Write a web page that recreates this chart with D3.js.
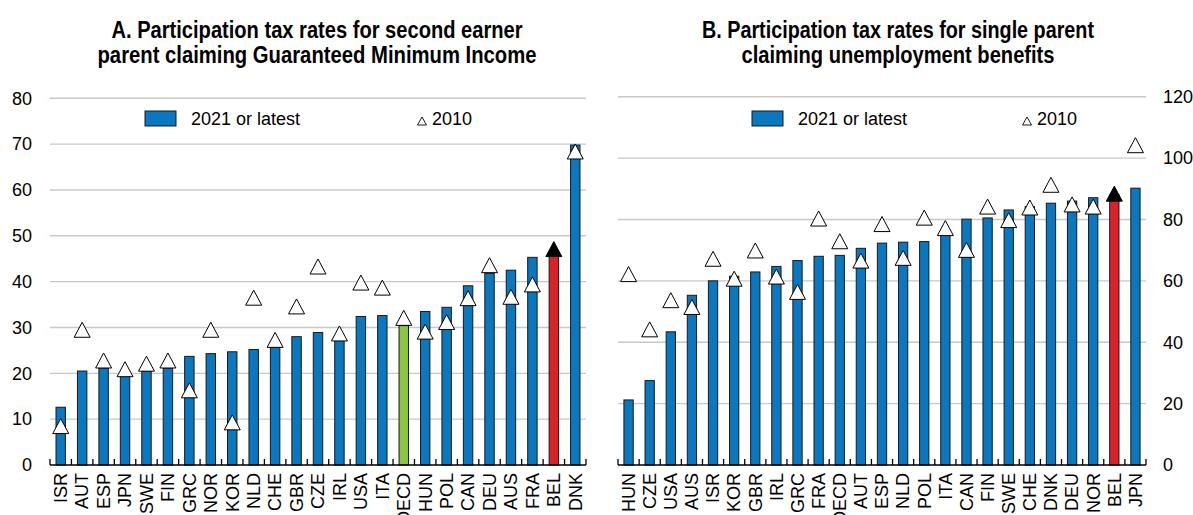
<!DOCTYPE html>
<html>
<head>
<meta charset="utf-8">
<script src="https://cdn.jsdelivr.net/npm/d3@7"></script>
<style>
  body { margin: 0; background: #fff; }
  svg text { font-family: "Liberation Sans", Arial, sans-serif; fill: #000; }
</style>
</head>
<body>
<div id="chart"></div>
<script>
// panel A: second earner parent, Guaranteed Minimum Income
const countriesA = ["ISR","AUT","ESP","JPN","SWE","FIN","GRC","NOR","KOR","NLD","CHE","GBR","CZE","IRL","USA","ITA","OECD","HUN","POL","CAN","DEU","AUS","FRA","BEL","DNK"];
const latestA = [12.6, 20.5, 21.1, 19.3, 20.4, 21.1, 23.7, 24.3, 24.7, 25.2, 25.7, 28.0, 28.9, 27.3, 32.4, 32.6, 30.4, 33.5, 34.4, 39.1, 41.8, 42.5, 45.3, 45.5, 69.8];
const y2010A = [8.5, 29.5, 22.8, 20.9, 22.1, 22.8, 16.3, 29.5, 9.3, 36.5, 27.3, 34.6, 43.3, 28.7, 39.8, 38.7, 32.1, 29.1, 31.2, 36.4, 43.6, 36.7, 39.4, 47.1, 68.4];
const ticksA = [0, 10, 20, 30, 40, 50, 60, 70, 80];

// panel B: single parent, unemployment benefits
const countriesB = ["HUN","CZE","USA","AUS","ISR","KOR","GBR","IRL","GRC","FRA","OECD","AUT","ESP","NLD","POL","ITA","CAN","FIN","SWE","CHE","DNK","DEU","NOR","BEL","JPN"];
const latestB = [21.2, 27.5, 43.4, 55.3, 60.0, 61.5, 62.9, 64.7, 66.6, 68.0, 68.3, 70.6, 72.3, 72.6, 72.8, 76.5, 80.1, 80.5, 83.1, 84.2, 85.3, 86.0, 87.1, 88.0, 90.2];
const y2010B = [62.2, 44.2, 53.7, 51.5, 67.2, 60.7, 69.9, 61.4, 56.4, 80.3, 72.9, 66.6, 78.5, 67.5, 80.6, 77.2, 70.1, 84.2, 79.8, 83.9, 91.3, 84.9, 84.2, 88.4, 104.2];
const ticksB = [0, 20, 40, 60, 80, 100, 120];

const width = 1193, height = 515;
const blue = "#0a77bf", red = "#dc2229", green = "#8cc63f";

const svg = d3.select("#chart").append("svg")
  .attr("width", width).attr("height", height);

// triangle path, centred on its bounding box
function tri(w, h) {
  return `M0,${-h/2}L${w/2},${h/2}L${-w/2},${h/2}Z`;
}

function drawPanel(p) {
  const g = svg.append("g");
  const x = d3.scaleBand().domain(p.cats).range([p.x0, p.x1]).paddingInner(0.56).paddingOuter(0.28);
  const y = d3.scaleLinear().domain([0, p.max]).range([465, p.yTop]);

  // titles (narrow bold face in the original, so squeeze to width)
  g.selectAll(".title").data(p.title).join("text")
    .attr("x", p.tx).attr("y", (d, i) => 38 + i * 25)
    .attr("text-anchor", "middle")
    .attr("textLength", (d, i) => p.titleW[i])
    .attr("lengthAdjust", "spacingAndGlyphs")
    .style("font-size", "23px").style("font-weight", "bold")
    .text(d => d);

  // gridlines
  g.selectAll(".grid").data(p.ticks.filter(t => t > 0)).join("line")
    .attr("x1", p.x0).attr("x2", p.x1)
    .attr("y1", d => y(d)).attr("y2", d => y(d))
    .attr("stroke", "#c8c8c8").attr("stroke-width", 1.4);

  // y tick labels
  g.selectAll(".ylab").data(p.ticks).join("text")
    .attr("x", p.labX).attr("y", d => y(d))
    .attr("dy", "0.35em")
    .attr("text-anchor", p.labAnchor)
    .style("font-size", "18px")
    .text(d => d);

  // legend
  const lg = g.append("g");
  lg.append("rect").attr("x", p.legX).attr("y", 111).attr("width", 31).attr("height", 15)
    .attr("fill", blue).attr("stroke", "#1a1a1a").attr("stroke-width", 1);
  lg.append("text").attr("x", p.legX + 46).attr("y", 119).attr("dy", "0.35em")
    .style("font-size", "18px").text("2021 or latest");
  lg.append("path").attr("d", tri(9, 8))
    .attr("transform", `translate(${p.legX2},${121})`)
    .attr("fill", "#fff").attr("stroke", "#000").attr("stroke-width", 0.9);
  lg.append("text").attr("x", p.legX2 + 10).attr("y", 119).attr("dy", "0.35em")
    .style("font-size", "18px").text("2010");

  const rows = p.cats.map((c, i) => ({ c, v: p.latest[i], o: p.old[i] }));

  // bars
  g.selectAll(".bar").data(rows).join("rect")
    .attr("x", d => x(d.c)).attr("width", x.bandwidth())
    .attr("y", d => y(d.v)).attr("height", d => y(0) - y(d.v))
    .attr("fill", d => d.c === "BEL" ? red : (d.c === "OECD" && p.greenOECD ? green : blue))
    .attr("stroke", "#1a1a1a").attr("stroke-width", 1);

  // 2010 markers
  g.selectAll(".mk").data(rows).join("path")
    .attr("d", tri(16, 15))
    .attr("transform", d => `translate(${x(d.c) + x.bandwidth() / 2},${y(d.o)})`)
    .attr("fill", d => d.c === "BEL" ? "#000" : "#fff")
    .attr("stroke", "#000").attr("stroke-width", 1);

  // x axis line and ticks at band edges
  g.append("line").attr("x1", p.x0).attr("x2", p.x1).attr("y1", y(0)).attr("y2", y(0))
    .attr("stroke", "#000").attr("stroke-width", 1.5);
  const edges = d3.range(p.cats.length + 1).map(i => p.x0 + i * x.step());
  g.selectAll(".tk").data(edges).join("line")
    .attr("x1", d => d).attr("x2", d => d)
    .attr("y1", y(0)).attr("y2", y(0) - 6)
    .attr("stroke", "#000").attr("stroke-width", 1.3);

  // category labels, rotated
  g.selectAll(".xlab").data(p.cats).join("text")
    .attr("transform", d => `translate(${x(d) + x.bandwidth() / 2},${473}) rotate(-90)`)
    .attr("text-anchor", "end").attr("dy", "0.35em")
    .style("font-size", "18px")
    .text(d => d);
}

drawPanel({
  cats: countriesA, latest: latestA, old: y2010A, ticks: ticksA, max: 80,
  x0: 50, x1: 586, yTop: 98.3, tx: 317, titleW: [411, 439],
  title: ["A. Participation tax rates for second earner", "parent claiming Guaranteed Minimum Income"],
  labX: 32, labAnchor: "end", legX: 145, legX2: 422, greenOECD: true
});

drawPanel({
  cats: countriesB, latest: latestB, old: y2010B, ticks: ticksB, max: 120,
  x0: 618, x1: 1146, yTop: 96.7, tx: 898, titleW: [392, 313],
  title: ["B. Participation tax rates for single parent", "claiming unemployment benefits"],
  labX: 1163, labAnchor: "start", legX: 752, legX2: 1027, greenOECD: false
});
</script>
</body>
</html>
